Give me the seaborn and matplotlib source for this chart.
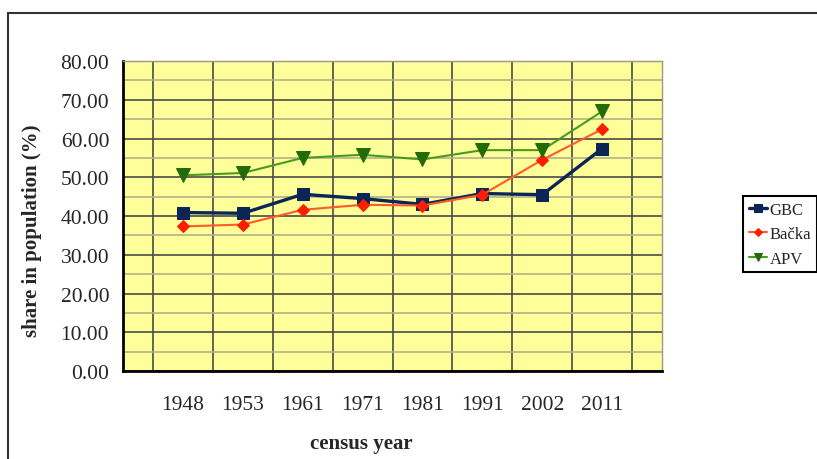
import numpy as np
import pandas as pd
import matplotlib
matplotlib.use("Agg")
import matplotlib.pyplot as plt
import seaborn as sns
from matplotlib.patches import Rectangle
from matplotlib.ticker import MultipleLocator, FixedLocator, FormatStrFormatter

# values
years = ["1948", "1953", "1961", "1971", "1981", "1991", "2002", "2011"]
gbc = [40.9, 40.7, 45.6, 44.5, 43.0, 45.8, 45.5, 57.4]
backa = [37.3, 37.8, 41.6, 42.9, 42.7, 45.5, 54.5, 62.4]
apv = [50.5, 51.1, 55.0, 55.8, 54.6, 57.0, 57.0, 67.0]
series_names = ["GBC", "Bačka", "APV"]

sns.set_style("white")
plt.rcParams["font.family"] = ["Liberation Serif", "DejaVu Serif"]

pos = np.arange(len(years))
data = pd.DataFrame({
    "pos": np.tile(pos, 3),
    "share": gbc + backa + apv,
    "series": np.repeat(series_names, len(years)),
})

fig = plt.figure(figsize=(8.17, 4.6), dpi=100)
ax = fig.add_axes([0.1506, 0.1913, 0.6597, 0.6739])
ax.set_facecolor("#ffff99")

styles = {
    "GBC":   dict(color="#0b2557", marker="s", ms=9.2, mfc="#0b2557", mec="#0b2557", lw=2.4),
    "Bačka": dict(color="#ff5a2a", marker="D", ms=6.3, mfc="#ff1e00", mec="#ff1e00", lw=1.5),
    "APV":   dict(color="#4a9a22", marker="v", ms=9.5, mfc="#236b08", mec="#236b08", lw=1.5),
}
for name in series_names:
    st = styles[name]
    sns.lineplot(data=data[data["series"] == name], x="pos", y="share", ax=ax,
                 color=st["color"], lw=st["lw"], marker=st["marker"],
                 markersize=st["ms"], markerfacecolor=st["mfc"],
                 markeredgecolor=st["mec"], label=name, zorder=3)

# category slots: gridlines sit between the years
ax.set_xlim(-1, len(years))
ax.set_ylim(0, 80)
ax.set_xticks(pos)
ax.set_xticklabels(years)
ax.xaxis.set_minor_locator(FixedLocator(np.append(pos - 0.5, pos[-1] + 0.5)))
ax.yaxis.set_major_locator(MultipleLocator(10))
ax.yaxis.set_minor_locator(MultipleLocator(5))
ax.yaxis.set_major_formatter(FormatStrFormatter("%.2f"))

ax.grid(which="major", axis="y", color="#4a4a4a", lw=1.2)
ax.grid(which="minor", axis="y", color="#b4b08a", lw=1.2)
ax.grid(which="minor", axis="x", color="#4a4a4a", lw=1.2)
ax.grid(which="major", axis="x", visible=False)
ax.set_axisbelow(True)

ax.tick_params(axis="both", which="major", direction="out", length=6, width=1.8,
               color="black", labelsize=15.5)
ax.tick_params(axis="x", which="major", pad=11)
ax.tick_params(axis="y", which="major", pad=4)
ax.tick_params(which="minor", length=0)

for side in ["left", "bottom"]:
    ax.spines[side].set_color("black")
    ax.spines[side].set_linewidth(2)
for side in ["top", "right"]:
    ax.spines[side].set_color("#9a9a80")
    ax.spines[side].set_linewidth(1)

ax.set_xlabel("census year", fontsize=15, fontweight="bold")
ax.set_ylabel("share in population (%)", fontsize=15, fontweight="bold")
ax.xaxis.set_label_coords(0.4416, -0.20)
ax.yaxis.set_label_coords(-0.15, 0.455)

leg = ax.legend(loc="upper left", bbox_to_anchor=(0.9094, 0.5717),
                bbox_transform=fig.transFigure, borderaxespad=0,
                fontsize=12, frameon=True, fancybox=False, framealpha=1,
                edgecolor="black", handlelength=1.1, handletextpad=0.15,
                labelspacing=0.5, borderpad=0.35, markerscale=0.6)
leg.get_frame().set_linewidth(1.5)

# outer chart frame (runs off the right and bottom edges)
fig.patches.append(Rectangle((8 / 817, -0.1), 1.2, 1.1 - 14 / 460,
                             transform=fig.transFigure, fill=False,
                             edgecolor="#333333", lw=1.5))

fig.savefig("out.png", dpi=100)
